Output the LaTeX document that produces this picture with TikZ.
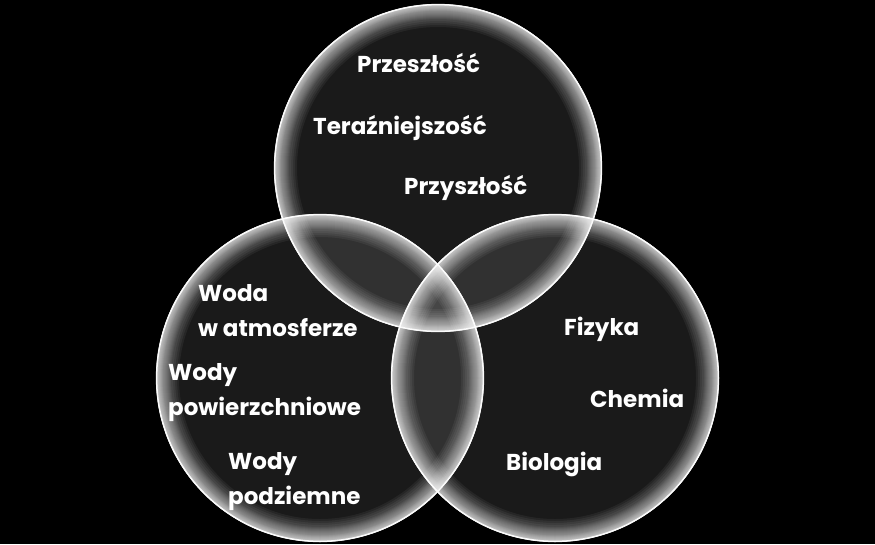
\documentclass[tikz,border=0pt]{standalone}
\usepackage{fontspec}
\setmainfont{Poppins}
\usepackage{tikz}

\begin{document}
\begin{tikzpicture}[
		x=1pt, y=-1pt,
		bubble/.style={fill=white, fill opacity=0.1},
		rim/.style={draw=white, draw opacity=0.055},
		edge/.style={draw=white, line width=1.5pt, draw opacity=0.95},
		term/.style={text=white, anchor=base west, inner sep=0pt, align=left,
			font=\bfseries\fontsize{23}{35}\selectfont}]
		\fill[black] (0,0) rectangle (875,544);
		\useasboundingbox (0,0) rectangle (875,544);

		\coordinate (czas)  at (438,168);
		\coordinate (woda)  at (320,378);
		\coordinate (nauka) at (555,378);

		% dark bubbles with a soft glow inside the rim
		\foreach \c in {czas,woda,nauka} {
			\fill[bubble] (\c) circle (164);
			\begin{scope}
				\clip (\c) circle (164);
				\foreach \w in {2,3,...,14,16,18,...,30,34,38,42,46}
					\draw[rim, line width=\w pt] (\c) circle (164);
			\end{scope}
			\draw[edge] (\c) circle (163.4);
		}

		% czas
		\node[term] (przeszlosc) at (357,72)  {Przeszłość};
		\node[term] (terazniejszosc) at (313,134) {Teraźniejszość};
		\node[term] (przyszlosc) at (404,194) {Przyszłość};

		% woda
		\node[term] (atmosfera) at (198,336) {Woda\\w atmosferze};
		\node[term] (powierzchnia) at (168,415) {Wody\\powierzchniowe};
		\node[term] (podziemne) at (228,504) {Wody\\podziemne};

		% nauki
		\node[term] (fizyka) at (564,335) {Fizyka};
		\node[term] (chemia) at (590,407) {Chemia};
		\node[term] (biologia) at (506,470) {Biologia};
\end{tikzpicture}
\end{document}
